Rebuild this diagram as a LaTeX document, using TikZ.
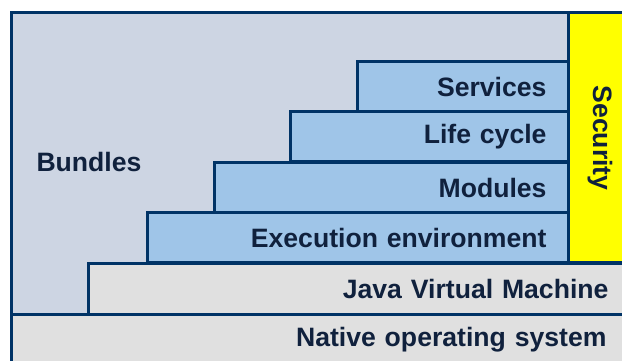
\documentclass[tikz,border=0pt]{standalone}
\usepackage{fontspec}
\setmainfont{Liberation Sans}
\definecolor{rand}{HTML}{003366}
\definecolor{schrift}{HTML}{10213D}
\definecolor{bundlefill}{HTML}{CDD5E3}
\definecolor{layerfill}{HTML}{9FC5E8}
\definecolor{basefill}{HTML}{E0E0E0}
\definecolor{secfill}{HTML}{FFFF00}
\tikzset{
	txt/.style={font=\fontsize{13.3}{15}\selectfont\bfseries, text=schrift, inner sep=0pt},
	box/.style={txt, draw=rand, line width=1.5pt, anchor=north west},
	layer/.style={box, fill=layerfill, align=right, inner xsep=11pt, minimum height=25pt},
	base/.style={layer, inner xsep=10pt, fill=basefill},
}
\begin{document}
\begin{tikzpicture}[x=0.5pt, y=-0.5pt]
		\useasboundingbox (0,0) rectangle (622,360);
		\clip (0,0) rectangle (622,360);
		% Rahmen
		\node[box, fill=bundlefill, minimum width=315pt, minimum height=151pt] (bundles) at (10,11) {};
		\node[txt] (bundlestxt) at (89,162) {Bundles};
		\node[box, fill=secfill, minimum width=40pt, minimum height=125pt] (security) at (567,11) {};
		\node[txt, rotate=-90] (securitytxt) at (600,138) {Security};
		% Schichten
		\node[layer, text width=83.5pt] (services) at (356,60) {Services};
		\node[layer, text width=117pt] (lifecycle) at (289,110) {Life cycle};
		\node[layer, text width=155pt] (modules) at (213,161) {Modules};
		\node[layer, text width=188.5pt] (exec) at (146,211) {Execution environment};
		% Basis
		\node[base, text width=250pt, minimum height=25.5pt] (jvm) at (87,262) {Java Virtual Machine};
		\node[base, text width=287.5pt] (native) at (10,313) {Native operating system};
	\end{tikzpicture}
\end{document}
